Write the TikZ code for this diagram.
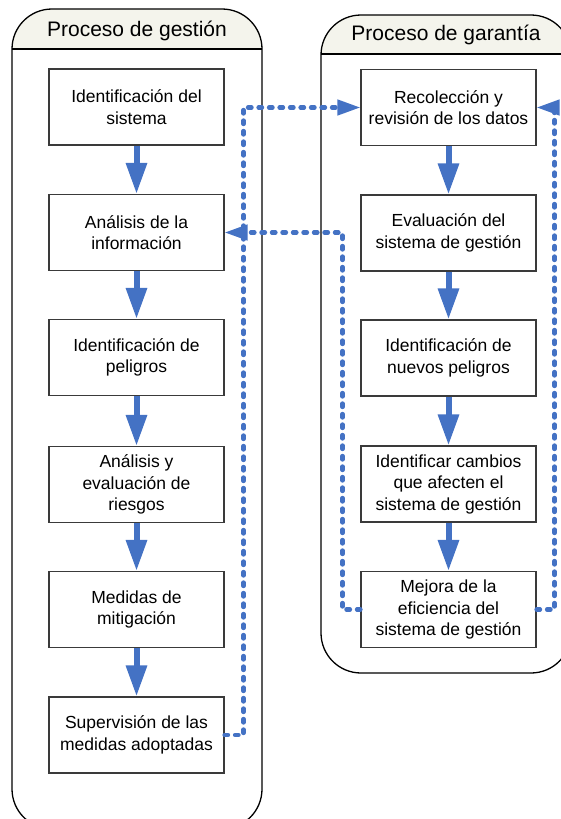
\documentclass[tikz,border=0pt]{standalone}
\usepackage{fontspec}
\setmainfont{Liberation Sans}
\usetikzlibrary{arrows.meta}
\definecolor{flowblue}{HTML}{4472C4}
\definecolor{bandfill}{HTML}{F4F4EC}
\definecolor{boxline}{HTML}{3A3A3A}
\tikzset{
  stepbox/.style={draw=boxline, line width=1.1pt, fill=white, minimum width=175pt, minimum height=76pt,
    inner sep=0pt, align=center, font=\fontsize{17.5}{21.5}\selectfont},
  lanetitle/.style={anchor=base, inner sep=0pt, font=\fontsize{21}{25}\selectfont},
  lane/.style={draw=black, line width=1.3pt, rounded corners=40pt},
  flow/.style={draw=flowblue, line width=6pt, -{Triangle[length=31pt,width=20pt]}},
  feedback/.style={draw=flowblue, line width=4.3pt, line cap=round, dash pattern=on 3.5pt off 7pt,
    -{Triangle[length=23pt,width=15pt]}},
}
\begin{document}
\begin{tikzpicture}[x=1pt,y=-1pt]
\useasboundingbox (0,0) rectangle (561,819);
% left lane
\begin{scope}
  \clip[rounded corners=40pt] (12,9) rectangle (262,829);
  \fill[bandfill] (12,9) rectangle (262,49);
\end{scope}
\draw[lane] (12,9) rectangle (262,829);
\draw[black, line width=1.3pt] (12,49) -- (262,49);
\node[lanetitle] (t1) at (137,36) {Proceso de gestión};
% right lane
\begin{scope}
  \clip[rounded corners=40pt] (321,15) rectangle (571,673);
  \fill[bandfill] (321,15) rectangle (571,54);
\end{scope}
\draw[lane] (321,15) rectangle (571,673);
\draw[black, line width=1.3pt] (321,54) -- (571,54);
\node[lanetitle] (t2) at (446,40.5) {Proceso de garantía};
% left boxes
\node[stepbox] (L1) at (136.5,107) {Identificación del\\sistema};
\node[stepbox] (L2) at (136.5,232.5) {Análisis de la\\información};
\node[stepbox] (L3) at (136.5,357.5) {Identificación de\\peligros};
\node[stepbox] (L4) at (136.5,484.5) {Análisis y\\evaluación de\\riesgos};
\node[stepbox] (L5) at (136.5,609.5) {Medidas de\\mitigación};
\node[stepbox] (L6) at (136.5,735) {Supervisión de las\\medidas adoptadas};
% right boxes
\node[stepbox] (R1) at (448.5,107.5) {Recolección y\\revisión de los datos};
\node[stepbox] (R2) at (448.5,233) {Evaluación del\\sistema de gestión};
\node[stepbox] (R3) at (448.5,358) {Identificación de\\nuevos peligros};
\node[stepbox] (R4) at (448.5,484) {Identificar cambios\\que afecten el\\sistema de gestión};
\node[stepbox] (R5) at (448.5,609.5) {Mejora de la\\eficiencia del\\sistema de gestión};
% flow arrows
\foreach \a/\b in {L1/L2,L2/L3,L3/L4,L4/L5,L5/L6,R1/R2,R2/R3,R3/R4,R4/R5}
  \draw[flow] (\a.south) -- (\b.north);
% feedback connectors
\draw[feedback] (L6.east) -- ++(19,0) |- (R1.west);
\draw[feedback] (R5.west) -- ++(-18,0) |- (L2.east);
\draw[feedback] (R5.east) -- ++(18,0) |- (R1.east);
\end{tikzpicture}
\end{document}
